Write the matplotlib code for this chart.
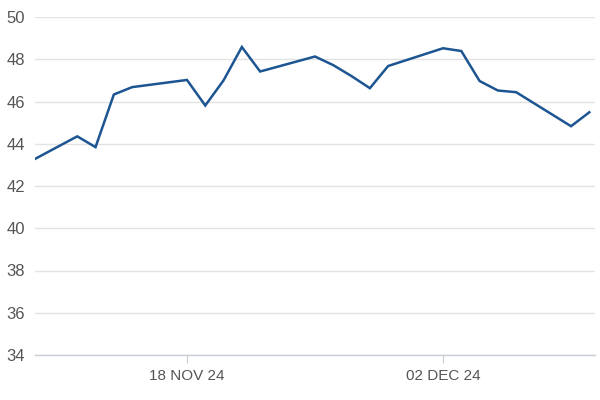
import numpy as np
import pandas as pd
import matplotlib
matplotlib.use("Agg")
import matplotlib.pyplot as plt
import matplotlib.dates as mdates

# Datos
fechas = ["2024-11-08", "2024-11-12", "2024-11-13", "2024-11-14", "2024-11-15",
          "2024-11-18", "2024-11-19", "2024-11-20", "2024-11-21", "2024-11-22",
          "2024-11-25", "2024-11-26", "2024-11-27", "2024-11-28", "2024-11-29",
          "2024-12-02", "2024-12-03", "2024-12-04", "2024-12-05", "2024-12-06",
          "2024-12-09", "2024-12-10"]
valores = [42.5, 44.35, 43.84, 46.33, 46.68,
           47.02, 45.81, 47.0, 48.58, 47.42,
           48.13, 47.72, 47.2, 46.63, 47.68,
           48.52, 48.39, 46.97, 46.52, 46.44,
           44.83, 45.49]
ticks_x = ["2024-11-18", "2024-12-02"]
ticks_y = [34, 36, 38, 40, 42, 44, 46, 48, 50]

x = pd.to_datetime(fechas)
gris = "#555555"

plt.rcParams['font.family'] = ['Liberation Sans', 'DejaVu Sans']

fig = plt.figure(figsize=(6, 4), dpi=100)
ax = fig.add_axes([35/600, 1 - 355/400, 560/600, 338/400])

ax.plot(x, valores, color="#1d5592", linewidth=1.8, solid_joinstyle="miter")

# limites
t0 = pd.Timestamp("2024-11-18")
ax.set_xlim(mdates.date2num(t0) - 8.31, mdates.date2num(pd.Timestamp("2024-12-02")) + 8.31)
ax.set_ylim(34, 50)

ax.set_yticks(ticks_y)
ax.set_xticks(pd.to_datetime(ticks_x))
ax.set_xticklabels([pd.Timestamp(t).strftime("%d %b %y").upper() for t in ticks_x])

ax.grid(axis="y", color="#e3e3e3", linewidth=1)
ax.set_axisbelow(True)
for s in ["top", "right", "left"]:
    ax.spines[s].set_visible(False)
ax.spines["bottom"].set_color("#c9cdd4")
ax.spines["bottom"].set_linewidth(1)

ax.tick_params(axis="y", length=0, pad=7, labelsize=12, labelcolor=gris)
ax.tick_params(axis="x", length=6, width=0.8, color="#c9cdd4", pad=4, labelsize=11, labelcolor=gris)

fig.savefig("out.png", dpi=100)
